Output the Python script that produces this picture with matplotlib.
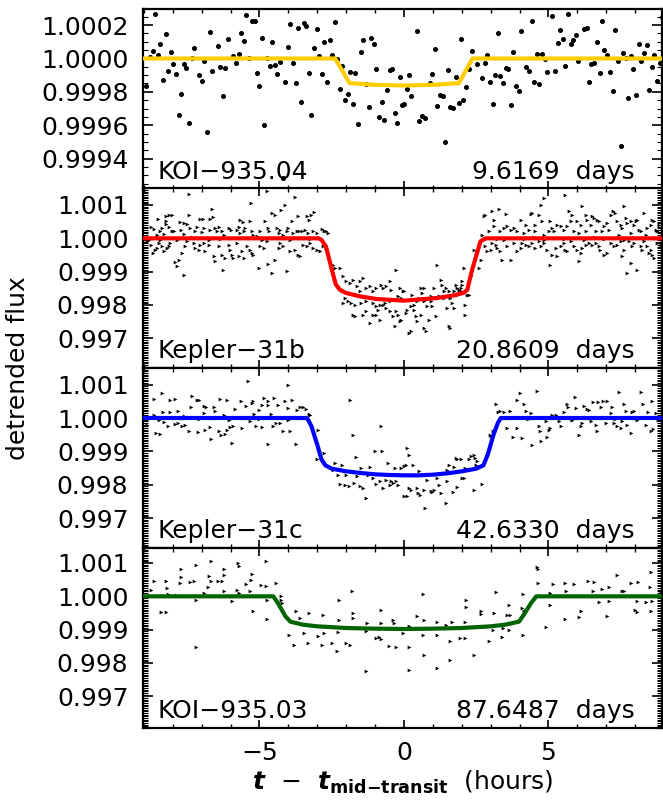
import matplotlib
matplotlib.use("Agg")
import matplotlib.pyplot as plt
from matplotlib.ticker import MultipleLocator

plt.rcParams['font.family'] = ['DejaVu Sans']
plt.rcParams['mathtext.fontset'] = 'dejavusans'

# ---------------- data ----------------
names = ["KOI\u2212935.04", "Kepler\u221231b", "Kepler\u221231c", "KOI\u2212935.03"]
periods = ["9.6169  days", "20.8609  days", "42.6330  days", "87.6487  days"]
line_colors = ["#FFCC00", "#FF0000", "#0000FF", "#006400"]

x_ticks = [-5, 0, 5]
x_tick_labels = ["\u22125", "0", "5"]
y_ticks_top = [0.9994, 0.9996, 0.9998, 1.0000, 1.0002]
y_labels_top = ["0.9994", "0.9996", "0.9998", "1.0000", "1.0002"]
y_ticks = [0.997, 0.998, 0.999, 1.000, 1.001]
y_labels = ["0.997", "0.998", "0.999", "1.000", "1.001"]

# KOI-935.04
t1 = [-8.60, -8.79, -8.69, -8.52, -8.43, -8.25, -8.07, -8.33, -8.16, -7.98, -7.89, -7.79, -7.70, -7.62, -7.53,
      -7.44, -7.25, -7.34, -7.08, -6.99, -6.91, -6.80, -6.71, -6.63, -6.45, -6.36, -6.26, -6.18, -6.08, -5.91,
      -5.82, -5.72, -5.63, -5.55, -5.46, -5.37, -5.25, -5.17, -5.09, -5.00, -4.92, -4.83, -4.74, -4.64, -4.55,
      -4.46, -4.38, -4.29, -4.18, -4.10, -4.01, -3.93, -3.84, -3.75, -3.66, -3.56, -3.47, -3.38, -3.30, -3.21,
      -3.11, -3.02, -2.93, -2.84, -2.75, -2.67, -2.57, -2.48, -2.39, -2.30, -2.21, -2.13, -2.03, -1.94, -1.85,
      -1.76, -1.68, -1.59, -1.49, -1.40, -1.31, -1.22, -1.13, -1.05, -0.95, -0.86, -0.77, -0.68, -0.59, -0.49,
      -0.41, -0.32, -0.23, -0.14, -0.05, -8.91,
      0.00, 0.09, 0.16, 0.25, 0.44, 0.53, 0.62, 0.72, 0.90, 0.98, 1.07, 1.16, 1.26, 1.35, 1.43, 1.52, 1.61, 1.71,
      1.80, 1.89, 1.98, 2.06, 2.16, 2.25, 2.34, 2.53, 2.70, 2.79, 2.88, 2.98, 3.07, 3.16, 3.25, 3.34, 3.43, 3.52,
      3.61, 3.70, 3.79, 3.88, 3.97, 4.06, 4.24, 4.34, 4.42, 4.51, 4.60, 4.69, 4.79, 4.88, 4.96, 5.14, 5.24, 5.32,
      5.41, 5.50, 5.59, 5.69, 5.77, 5.86, 5.95, 6.04, 6.23, 6.32, 6.41, 6.49, 6.59, 6.68, 6.77, 6.86, 6.94, 7.04,
      7.13, 7.22, 7.31, 7.40, 7.50, 7.58, 7.67, 7.76, 7.85, 7.94, 8.03, 8.12, 8.21, 8.30, 8.40, 8.49, 8.57, 8.66,
      8.75, 8.85, 8.94]
f1 = [1.000266, 1.000012, 1.000046, 1.000022, 1.000088, 1.000146, 1.000038, 0.999874, 0.999924, 0.999966,
      0.999908, 0.999662, 0.999786, 0.999968, 0.999946, 0.999612, 1.000066, 1.000002, 0.999902, 0.999868,
      0.999986, 0.999562, 1.000160, 0.999926, 1.000076, 0.999952, 0.999776, 0.999946, 1.000118, 1.000016,
      0.999972, 1.000028, 1.000156, 1.000108, 1.000260, 1.000002, 1.000226, 1.000226, 0.999916, 0.999836,
      1.000122, 0.999604, 1.000002, 0.999954, 1.000102, 0.999960, 0.999906, 0.999982, 0.999286, 0.999860,
      1.000070, 1.000208, 0.999972, 0.999854, 1.000182, 0.999738, 1.000214, 1.000196, 0.999912, 0.999662,
      1.000066, 1.000178, 1.000018, 0.999910, 1.000096, 0.999858, 1.000110, 1.000022, 1.000220, 0.999998,
      0.999818, 0.999954, 0.999750, 0.999790, 0.999920, 0.999730, 0.999916, 0.999606, 1.000040, 1.000112,
      0.999850, 0.999710, 1.000124, 1.000086, 0.999940, 0.999652, 0.999742, 0.999630, 0.999814, 0.999934,
      0.999940, 0.999672, 0.999612, 0.999890, 0.999724, 0.999838,
      0.999726, 0.999818, 0.999902, 0.999774, 1.000166, 0.999624, 0.999658, 0.999646, 0.999854, 0.999906,
      1.000058, 0.999716, 0.999780, 0.999774, 0.999502, 0.999932, 0.999710, 0.999704, 0.999892, 0.999732,
      1.000116, 0.999754, 0.999828, 0.999936, 1.000044, 0.999966, 0.999886, 0.999976, 1.000020, 0.999860,
      0.999730, 0.999904, 1.000150, 0.999894, 0.999852, 0.999946, 0.999940, 0.999720, 1.000040, 0.999834,
      0.999804, 1.000168, 0.999950, 0.999926, 1.000224, 0.999860, 1.000030, 0.999848, 1.000030, 0.999998,
      0.999922, 1.000254, 0.999924, 1.000094, 1.000174, 1.000118, 0.999954, 1.000268, 1.000086, 1.000112,
      1.000140, 0.999988, 1.000180, 1.000186, 0.999862, 0.999966, 0.999976, 1.000098, 0.999916, 1.000228,
      1.000054, 1.000020, 0.999922, 0.999808, 1.000170, 0.999988, 0.999478, 1.000032, 1.000002, 0.999766,
      1.000014, 0.999936, 0.999782, 1.000086, 0.999984, 1.000036, 1.000082, 0.999812, 0.999948, 1.000024,
      0.999866, 0.999974, 1.000250]
mt1 = [-9.1, -2.38, -1.88, -1.0, 0.0, 1.0, 1.90, 2.37, 9.1]
mf1 = [1.0, 1.0, 0.999852, 0.999842, 0.999838, 0.999842, 0.999852, 1.0, 1.0]

# Kepler-31b
t2 = [-7.45, -4.75, -3.77, -5.29, -4.11, -4.25, -6.64, -3.11, -7.43, -8.52, -8.23, -8.14, -8.02, -8.25, -8.22,
      -7.76, -7.62, -7.05, -6.97, -6.72, -6.62, -5.67, -5.57, -5.32, -4.80, -4.57, -4.46, -3.89, -3.68, -3.37,
      -3.29, -3.22, -8.77, -8.66, -8.54, -8.43, -8.37, -8.31, -8.14, -8.02, -7.97, -7.70, -7.62, -7.51, -7.39,
      -7.22, -7.16, -6.99, -6.93, -6.70, -6.55, -6.47, -6.41, -6.30, -6.24, -6.07, -5.99, -5.78, -5.71, -5.67,
      -5.55, -5.49, -5.26, -5.21, -5.09, -4.98, -4.69, -4.66, -4.40, -4.34, -4.29, -4.17, -4.06, -4.00, -3.83,
      -3.71, -3.64, -3.54, -3.43, -3.31, -3.16, -3.02, -2.83, -2.77, -2.70, -2.64,
      -8.89, -8.77, -8.68, -8.60, -8.54, -8.48, -8.37, -8.31, -8.20, -8.14, -8.08, -7.91, -7.85, -7.77, -7.68,
      -7.62, -7.56, -7.51, -7.28, -7.22, -7.10, -7.05, -6.93, -6.87, -6.76, -6.59, -6.53, -6.41, -6.30, -6.26,
      -6.18, -6.07, -6.01, -5.95, -5.90, -5.78, -5.72, -5.61, -5.55, -5.44, -5.32, -5.26, -5.21, -5.03, -4.98,
      -4.86, -4.75, -4.69, -4.57, -4.46, -4.34, -4.29, -4.17, -4.06, -3.94, -3.77, -3.66, -3.60, -3.48, -3.37,
      -3.25, -3.14, -3.02, -2.91, -2.79, -2.70,
      -8.83, -8.66, -8.45, -8.25, -7.85, -7.56, -7.33, -7.10, -6.76, -6.36, -6.01, -5.67, -5.32, -4.92, -4.63,
      -4.29, -3.94, -3.60, -3.25, -2.97,
      -2.45, -2.39, -2.22, -2.10, -1.99, -1.87, -1.76, -1.64, -1.53, -1.41, -1.30, -1.18, -1.07, -0.95, -0.78,
      -0.72, -0.61, -0.49, -0.44, -0.26, -0.15, -0.03, -2.16, -2.05, -1.93, -1.82, -1.70, -1.59, -1.47, -1.41,
      -1.30, -1.18, -1.07, -0.95, -0.90, -0.84, -0.72, -0.67, -0.61, -0.49, -0.38, -0.32, -0.26, -0.21, -0.15,
      -0.09, -2.10, -1.76, -1.70, -1.07, -0.49, -0.21, -0.09, -1.53, -1.30, -0.95, -0.84,
      0.00, 0.06, 0.12, 0.17, 0.23, 0.29, 0.35, 0.40, 0.46, 0.52, 0.58, 0.63, 0.69, 0.75, 0.81, 0.86, 0.92, 0.98,
      1.04, 1.10, 1.15, 1.21, 1.27, 1.33, 1.38, 1.44, 1.50, 1.56, 1.61, 1.67, 1.73, 1.79, 1.84, 1.90, 1.96, 2.02,
      2.08, 2.13, 2.13, 2.19, 2.25, 2.31, 2.36, 1.15, 0.23, 0.46, 0.69, 0.92, 1.61, 1.84, 0.35, 0.58, 1.73, 1.96,
      2.02, 0.69, 1.38, 1.56,
      2.42, 2.48, 2.54, 2.59, 2.65, 2.71, 2.77, 2.65,
      2.77, 2.82, 3.06, 3.11, 3.29, 3.52, 3.57, 3.81, 3.92, 4.04, 4.21, 4.38, 4.44, 4.55, 4.67, 4.73, 4.79, 4.84,
      5.07, 5.19, 5.31, 5.42, 5.59, 5.71, 5.77, 5.82, 6.00, 6.05, 6.11, 6.17, 6.29, 6.34, 6.46, 6.52, 6.57, 6.69,
      6.75, 6.86, 6.92, 7.04, 7.15, 7.24, 7.32, 7.38, 7.50, 7.55, 7.61, 7.67, 7.73, 7.84, 7.96, 8.02, 8.07, 8.19,
      8.30, 8.42, 8.54, 8.59, 8.65, 8.71, 8.82, 2.94, 3.11, 3.34, 3.46, 3.69, 4.15, 4.32, 4.55, 4.84, 5.02, 5.13,
      5.53, 5.65, 5.88, 6.29, 6.63, 7.09, 7.44, 7.84, 8.13, 8.36, 8.76,
      2.82, 2.88, 3.00, 3.06, 3.17, 3.23, 3.34, 3.40, 3.57, 3.69, 3.81, 3.92, 4.04, 4.09, 4.21, 4.32, 4.44, 4.55,
      4.67, 4.73, 4.84, 4.96, 5.07, 5.13, 5.25, 5.31, 5.42, 5.53, 5.59, 5.65, 5.77, 5.88, 6.00, 6.05, 6.11, 6.17,
      6.29, 6.40, 6.52, 6.63, 6.75, 6.80, 6.92, 7.04, 7.15, 7.27, 7.38, 7.50, 7.55, 7.61, 7.73, 7.79, 7.84, 7.90,
      7.96, 8.07, 8.19, 8.25, 8.30, 8.42, 8.48, 8.54, 8.59, 8.65, 8.77, 8.88,
      2.88, 3.23, 3.46, 3.81, 4.15, 4.50, 4.84, 5.19, 5.53, 5.88, 6.23, 6.57, 6.92, 7.27, 7.61, 7.96, 8.30, 8.65,
      8.94]
f2 = [1.00133, 1.00141, 1.00123, 1.00105, 1.00099, 1.00086, 1.00088, 1.00079, 1.00071, 1.00058, 1.00068,
      1.00071, 1.00071, 1.00051, 1.00043, 1.00048, 1.00046, 1.00059, 1.00059, 1.00059, 1.00064, 1.00056,
      1.00048, 1.00051, 1.00051, 1.00076, 1.00069, 1.00051, 1.00066, 1.00066, 1.00056, 1.00071, 1.00033,
      1.00029, 1.00011, 1.00023, 1.00031, 1.00013, 1.00033, 1.00021, 1.00023, 1.00026, 1.00013, 1.00043,
      1.00031, 1.00021, 1.00033, 1.00019, 1.00031, 1.00026, 1.00031, 1.00021, 1.00033, 1.00023, 1.00011,
      1.00031, 1.00026, 1.00026, 1.00033, 1.00016, 1.00021, 1.00031, 1.00021, 1.00011, 1.00006, 1.00021,
      1.00031, 1.00021, 1.00031, 1.00016, 1.00026, 1.00011, 1.00021, 1.00031, 1.00016, 1.00021, 1.00023,
      1.00021, 1.00026, 1.00016, 1.00021, 1.00016, 1.00029, 1.00023, 1.00021, 1.00016,
      0.99991, 0.99981, 0.99956, 0.99966, 0.99971, 0.99986, 0.99976, 0.99963, 0.99971, 0.99976, 0.99986,
      0.99929, 0.99916, 0.99936, 0.99956, 0.99891, 0.99976, 0.99993, 0.99986, 0.99971, 0.99966, 0.99981,
      0.99986, 0.99961, 0.99981, 0.99946, 0.99931, 0.99976, 0.99951, 0.99906, 0.99941, 0.99981, 0.99966,
      0.99951, 0.99941, 0.99986, 0.99946, 0.99961, 0.99941, 0.99976, 0.99966, 0.99956, 0.99951, 0.99911,
      0.99976, 0.99971, 0.99991, 0.99923, 0.99896, 0.99936, 0.99971, 0.99986, 0.99976, 0.99901, 0.99961,
      0.99966, 0.99951, 0.99946, 0.99981, 0.99976, 0.99986, 0.99971, 0.99966, 0.99961, 0.99976, 0.99971,
      0.99996, 1.00001, 0.99996, 1.00001, 0.99996, 1.00001, 1.00003, 1.00001, 0.99996, 0.99999, 1.00001,
      1.00001, 1.00001, 0.99996, 1.00001, 1.00001, 0.99996, 1.00001, 0.99999, 1.00001,
      0.99921, 0.99911, 0.99911, 0.99886, 0.99871, 0.99866, 0.99876, 0.99856, 0.99871, 0.99881, 0.99851,
      0.99856, 0.99841, 0.99851, 0.99861, 0.99851, 0.99856, 0.99871, 0.99846, 0.99906, 0.99851, 0.99841,
      0.99841, 0.99821, 0.99811, 0.99806, 0.99801, 0.99831, 0.99806, 0.99771, 0.99781, 0.99746, 0.99771,
      0.99796, 0.99786, 0.99756, 0.99801, 0.99806, 0.99791, 0.99781, 0.99766, 0.99736, 0.99781, 0.99771,
      0.99751, 0.99756, 0.99806, 0.99771, 0.99766, 0.99806, 0.99811, 0.99826, 0.99821, 0.99841, 0.99811,
      0.99771, 0.99801,
      0.99841, 0.99776, 0.99786, 0.99716, 0.99721, 0.99831, 0.99801, 0.99766, 0.99751, 0.99821, 0.99851,
      0.99836, 0.99731, 0.99721, 0.99796, 0.99756, 0.99826, 0.99796, 0.99851, 0.99766, 0.99821, 0.99826,
      0.99876, 0.99861, 0.99821, 0.99851, 0.99791, 0.99736, 0.99731, 0.99806, 0.99841, 0.99861, 0.99851,
      0.99846, 0.99851, 0.99871, 0.99911, 0.99801, 0.99771, 0.99831, 0.99831, 0.99886, 0.99901, 0.99919,
      0.99796, 0.99811, 0.99811, 0.99811, 0.99821, 0.99831, 0.99786, 0.99771, 0.99791, 0.99841, 0.99861,
      0.99851, 0.99841, 0.99841,
      0.99966, 0.99951, 0.99961, 0.99911, 0.99991, 1.00011, 1.00001, 0.99936,
      1.00066, 1.00071, 1.00081, 1.00056, 1.00089, 1.00073, 1.00036, 1.00031, 1.00021, 1.00056, 1.00041,
      1.00073, 1.00076, 1.00041, 1.00071, 1.00099, 1.00051, 1.00121, 1.00051, 1.00021, 1.00041, 1.00036,
      1.00131, 1.00081, 1.00051, 1.00069, 1.00051, 1.00016, 1.00041, 1.00096, 1.00071, 1.00056, 1.00041,
      1.00066, 1.00061, 1.00056, 1.00051, 1.00021, 1.00036, 1.00046, 1.00071, 1.00081, 1.00076, 1.00051,
      1.00041, 1.00031, 1.00096, 1.00061, 1.00046, 1.00051, 1.00041, 1.00051, 1.00056, 1.00021, 1.00076,
      1.00031, 1.00041, 1.00056, 1.00051, 1.00026, 1.00041, 1.00021, 1.00036, 1.00021, 1.00031, 1.00026,
      1.00016, 1.00026, 1.00021, 1.00011, 1.00021, 1.00031, 1.00026, 1.00036, 1.00021, 1.00021, 1.00021,
      1.00026, 1.00011, 1.00016, 1.00026, 1.00011, 1.00021,
      0.99976, 0.99961, 0.99966, 0.99986, 0.99981, 0.99971, 0.99961, 0.99936, 0.99976, 0.99936, 0.99986,
      0.99961, 0.99971, 0.99986, 0.99981, 0.99976, 0.99986, 0.99971, 0.99991, 0.99976, 0.99986, 0.99966,
      0.99921, 0.99951, 0.99971, 0.99946, 0.99976, 0.99986, 0.99966, 0.99961, 0.99991, 0.99976, 0.99966,
      0.99931, 0.99956, 0.99971, 0.99981, 0.99986, 0.99981, 0.99986, 0.99976, 0.99966, 0.99951, 0.99956,
      0.99986, 0.99976, 0.99981, 0.99991, 0.99946, 0.99966, 0.99896, 0.99991, 0.99926, 0.99976, 0.99986,
      0.99906, 0.99976, 0.99966, 0.99991, 0.99976, 0.99956, 0.99966, 0.99951, 0.99941, 0.99986, 0.99981,
      1.00001, 0.99998, 0.99996, 1.00001, 0.99998, 1.00003, 0.99996, 1.00001, 0.99998, 1.00001, 0.99996,
      1.00003, 0.99998, 1.00001, 0.99996, 1.00001, 0.99998, 1.00001, 0.99999]
mt2 = [-9.1, -2.95, -2.85, -2.70, -2.51, -2.36, -2.22, -2.00, -1.53, -0.95, 0.0, 0.58, 1.15, 1.73, 2.05, 2.19,
       2.36, 2.65, 2.83, 9.1]
mf2 = [1.0, 1.0, 0.99995, 0.99976, 0.99911, 0.99862, 0.99846, 0.99836, 0.99826, 0.99818, 0.99813, 0.99817,
       0.99821, 0.99829, 0.99836, 0.99845, 0.99906, 0.99991, 1.0, 1.0]

# Kepler-31c
t3 = [-8.66, -8.37, -8.08, -7.93, -7.33, -7.16, -7.10, -6.13, -5.64, -5.41, -5.21, -4.86, -4.72, -4.49, -4.11,
      -4.00, -3.89, -6.38,
      -8.66, -8.10, -7.82, -7.62, -7.37, -6.93, -6.93, -6.84, -6.59, -6.53, -6.22, -5.86, -5.47, -5.26, -5.18,
      -5.00, -4.92, -4.69, -4.60, -4.37, -4.00, -3.71, -3.60, -3.51, -3.40, -3.29, -8.33,
      -8.89, -8.59, -8.43, -8.31, -8.16, -7.91, -7.82, -7.68, -7.56, -7.45, -7.13, -6.90, -6.70, -6.67, -6.41,
      -6.33, -6.18, -6.13, -6.03, -5.95, -5.93, -5.61, -5.34, -5.11, -4.92, -4.72, -4.52, -4.44, -4.20, -3.94,
      -3.74, -4.29,
      -8.83, -8.48, -7.97, -7.62, -7.10, -6.59, -6.07, -5.55, -5.03, -4.52, -4.00, -3.48,
      -3.25, -2.97, -3.02, -2.76,
      -2.45, -2.39, -2.28, -2.22, -2.13, -2.05, -1.99, -1.90, -1.85, -1.78, -1.74, -1.67, -1.64, -1.53, -1.47,
      -1.41, -1.30, -1.24, -1.16, -1.07, -1.01, -0.95, -0.84, -0.78, -0.75, -0.72, -0.61, -0.55, -0.49, -0.44,
      -0.38, -0.32, -0.26, -0.21, -0.09, -0.01, 0.01, -1.97,
      0.12, 0.17, 0.06, 0.32, 0.09, 0.17, 0.25, 0.46, 0.48, 0.55, 0.52, 0.69, 0.73, 0.81, 0.92, 0.98, 1.04, 1.15,
      1.21, 1.27, 1.44, 1.48, 1.50, 1.56, 1.73, 1.79, 1.85, 1.96, 2.02, 2.08, 1.71, 1.82, 2.13, 2.25, 2.31, 2.42,
      2.45, 2.48, 2.42, 2.71, 2.54, 2.88, 2.98, 3.02, 3.09,
      3.17, 3.26, 3.32, 3.46, 3.67, 3.58, 3.78, 3.92, 3.92, 4.01, 4.09, 4.17, 4.24, 4.38, 4.44, 4.59, 4.67, 4.71,
      4.75, 4.90, 4.96, 5.02, 5.07, 5.13, 5.25, 5.36, 5.42, 5.54, 5.63, 5.67, 5.82, 5.91, 5.97, 6.06, 6.11, 6.17,
      6.23, 6.34, 6.40, 6.46, 6.55, 6.63, 6.67, 6.72, 6.81, 6.90, 6.98, 7.04, 7.15, 7.21, 7.27, 7.38, 7.44, 7.50,
      7.55, 7.61, 7.67, 7.73, 7.84, 7.90, 7.96, 8.07, 8.19, 8.28, 8.36, 8.44, 8.54, 8.59, 8.63, 8.71,
      3.6, 4.3, 5.0, 5.8, 6.5, 7.3, 8.0, 8.8]
f3 = [1.00058, 1.00074, 1.00055, 1.00058, 1.00065, 1.00053, 1.00053, 1.00053, 1.00050, 1.00112, 1.00050,
      1.00060, 1.00050, 1.00060, 1.00050, 1.00098, 1.00055, 1.00058,
      1.00010, 1.00017, 1.00020, 1.00005, 1.00033, 1.00015, 1.00037, 1.00033, 1.00032, 1.00022, 1.00010,
      1.00028, 1.00037, 1.00045, 1.00012, 1.00025, 1.00040, 1.00038, 1.00012, 1.00040, 1.00030, 1.00025,
      1.00032, 1.00032, 1.00028, 1.00012, 1.00017,
      0.99980, 0.99955, 0.99953, 0.99987, 0.99975, 0.99983, 0.99985, 0.99975, 0.99980, 0.99960, 0.99958,
      0.99964, 0.99972, 0.99937, 0.99960, 0.99950, 0.99952, 0.99965, 0.99972, 0.99925, 0.99977, 0.99969,
      0.99990, 0.99975, 0.99972, 0.99922, 0.99975, 0.99985, 0.99962, 0.99962, 0.99923, 0.99985,
      1.00000, 0.99995, 1.00000, 1.00000, 0.99997, 1.00000, 0.99995, 1.00000, 0.99997, 1.00000, 0.99995,
      1.00000,
      1.00010, 0.99965, 0.99878, 0.99895,
      0.99845, 0.99865, 0.99830, 0.99803, 0.99860, 0.99798, 0.99830, 0.99795, 1.00053, 0.99950, 0.99805,
      0.99882, 0.99825, 0.99795, 0.99850, 0.99790, 0.99760, 0.99830, 0.99852, 0.99820, 0.99900, 0.99802,
      0.99810, 0.99975, 0.99902, 0.99790, 0.99815, 0.99865, 0.99800, 0.99810, 0.99805, 0.99850, 0.99810,
      0.99798, 0.99850, 0.99857, 0.99765, 0.99840,
      0.99910, 0.99888, 0.99860, 0.99860, 0.99765, 0.99790, 0.99785, 0.99790, 0.99775, 0.99770, 0.99840,
      0.99785, 0.99730, 0.99815, 0.99780, 0.99778, 0.99785, 0.99820, 0.99800, 0.99775, 0.99745, 0.99810,
      0.99845, 0.99858, 0.99852, 0.99880, 0.99878, 0.99878, 0.99820, 0.99820, 0.99778, 0.99792, 0.99850,
      0.99878, 0.99885, 0.99890, 0.99880, 0.99860, 0.99785, 0.99802, 0.99872, 0.99885, 0.99950, 0.99945,
      0.99960,
      1.00042, 1.00018, 1.00020, 1.00018, 1.00020, 0.99970, 0.99942, 0.99970, 1.00055, 1.00075, 0.99940,
      1.00042, 1.00020, 1.00015, 0.99918, 1.00080, 0.99975, 0.99962, 0.99932, 0.99990, 0.99942, 0.99965,
      0.99970, 1.00010, 1.00010, 0.99990, 0.99975, 1.00018, 1.00042, 1.00032, 0.99995, 1.00062, 1.00030,
      0.99948, 0.99975, 0.99985, 1.00035, 1.00028, 1.00025, 0.99990, 1.00048, 0.99980, 0.99962, 1.00048,
      1.00032, 1.00050, 0.99985, 1.00052, 1.00015, 1.00032, 0.99985, 0.99975, 1.00078, 0.99970, 0.99990,
      1.00042, 1.00020, 0.99980, 0.99955, 1.00018, 1.00022, 0.99995, 1.00078, 1.00042, 0.99978, 1.00018,
      0.99962, 1.00050, 0.99968, 1.00015,
      1.00000, 0.99997, 1.00000, 0.99995, 1.00000, 0.99997, 1.00000, 0.99995]
mt3 = [-9.1, -3.35, -3.20, -3.00, -2.85, -2.72, -2.50, -2.00, -1.50, -1.00, -0.50, 0.0, 0.50, 1.00, 1.50,
       2.00, 2.50, 2.75, 2.90, 3.10, 3.25, 3.35, 9.1]
mf3 = [1.0, 1.0, 0.99975, 0.99920, 0.99875, 0.99858, 0.99848, 0.99840, 0.99835, 0.99831, 0.99829, 0.99828,
       0.99828, 0.99830, 0.99834, 0.99840, 0.99848, 0.99858, 0.99890, 0.99950, 0.99985, 1.0, 1.0]

# KOI-935.03
t4 = [-8.75, -8.65, -8.40, -8.25, -8.22, -8.19, -8.17, -7.90, -7.75, -7.73, -7.71, -7.41, -7.27, -7.21, -7.21,
      -7.21, -6.69, -6.92, -6.79, -6.75, -6.69, -6.44, -6.29, -6.23, -6.21, -6.21, -5.94, -5.77, -5.74, -5.71,
      -5.71, -5.48, -5.31, -5.29, -5.25, -5.22, -4.94, -4.76, -4.76, -4.73, -4.73, -4.44, -4.27, -4.25, -4.21,
      -3.98, -3.81, -3.75, -3.60, -3.46, -3.33, -3.29, -2.98, -2.83, -2.79, -2.77, -2.48, -2.33, -2.29, -2.25,
      -2.25, -1.99, -1.85, -1.79, -1.76, -1.76, -1.33, -1.30, -1.27, -0.98, -0.87, -0.79, -0.79, -0.79, -0.52,
      -0.37, -0.33, -0.29, -0.03, 0.17, 0.17, 0.19, 0.46, 0.67, 0.67, 0.69, 0.69, 1.13, 1.15, 1.15, 1.44, 1.61,
      1.61, 1.67, 1.93, 2.10, 2.13, 2.16, 2.16, 2.42, 2.65, 2.67, 2.94, 3.09, 3.13, 3.17, 3.40, 3.43, 3.57, 3.66,
      3.63, 3.63, 4.09, 4.13, 4.13, 4.15, 4.21, 4.59, 4.63, 4.63, 4.90, 5.05, 5.07, 5.16, 5.56, 5.59, 5.62, 5.88,
      6.05, 6.11, 6.37, 6.55, 6.59, 6.74, 6.86, 7.03, 7.09, 7.09, 7.38, 7.55, 7.61, 7.86, 8.01, 8.05, 8.07, 8.09,
      8.36, 8.53, 8.55, 8.55, 8.59, 8.90]
f4 = [1.00020, 1.00045, 0.99952, 0.99952, 1.00045, 1.00025, 1.00007, 1.00005, 1.00040, 1.00057, 1.00083,
      1.00042, 1.00047, 1.00095, 0.99988, 0.99847, 1.00107, 1.00010, 1.00027, 1.00060, 1.00047, 1.00047,
      1.00047, 1.00065, 1.00083, 1.00017, 0.99985, 1.00020, 1.00100, 1.00090, 1.00010, 1.00037, 1.00017,
      1.00050, 1.00067, 0.99957, 1.00035, 1.00105, 1.00030, 0.99990, 0.99932, 1.00040, 1.00000, 0.99990,
      0.99980, 0.99885, 0.99855, 0.99957, 0.99935, 0.99890, 0.99860, 0.99950, 0.99880, 0.99853, 0.99943,
      0.99890, 0.99860, 0.99837, 0.99893, 0.99930, 0.99990, 0.99860, 0.99853, 1.00017, 0.99950, 0.99935,
      0.99775, 0.99895, 0.99920, 0.99875, 0.99877, 0.99960, 0.99920, 0.99873, 0.99850, 0.99930, 0.99920,
      0.99847, 0.99890, 0.99780, 0.99910, 0.99848, 0.99940, 1.00007, 0.99885, 0.99825, 0.99930, 0.99785,
      0.99923, 0.99885, 0.99915, 0.99867, 0.99810, 0.99923, 0.99875, 0.99875, 0.99923, 0.99990, 0.99967,
      0.99825, 0.99957, 0.99947, 0.99865, 0.99900, 0.99950, 1.00013, 0.99877, 0.99905, 0.99945, 0.99945,
      0.99973, 0.99900, 0.99965, 1.00007, 0.99883, 0.99955, 0.99960, 1.00087, 1.00083, 1.00040, 0.99907,
      0.99973, 1.00010, 1.00037, 0.99933, 1.00040, 1.00015, 1.00037, 0.99937, 0.99955, 1.00045, 1.00015,
      1.00043, 0.99983, 1.00023, 0.99940, 0.99985, 1.00027, 1.00065, 1.00017, 1.00015, 1.00040, 0.99960,
      0.99953, 0.99985, 1.00043, 0.99983, 1.00027, 1.00073, 0.99955, 0.99987, 1.00015]
mt4 = [-9.1, -4.52, -4.35, -4.10, -3.93, -3.50, -3.00, -2.00, -1.00, 0.0, 1.00, 2.00, 3.00, 3.50, 3.98, 4.15,
       4.40, 4.58, 9.1]
mf4 = [1.0, 1.0, 0.99978, 0.99940, 0.99924, 0.99915, 0.99910, 0.99905, 0.99903, 0.99902, 0.99903, 0.99905,
       0.99910, 0.99915, 0.99924, 0.99945, 0.99980, 1.0, 1.0]

all_t = [t1, t2, t3, t4]
all_f = [f1, f2, f3, f4]
all_mt = [mt1, mt2, mt3, mt4]
all_mf = [mf1, mf2, mf3, mf4]
ylims = [(0.99922, 1.00030), (0.99611, 1.00151), (0.99610, 1.00150), (0.99605, 1.00145)]

# ---------------- figure ----------------
W, H = 663, 801
fig = plt.figure(figsize=(W / 100, H / 100), dpi=100)
left_px, right_px = 143, 662
tops = [8.5, 188, 368, 548]
ph = 180
FS = 18

for i in range(4):
    ax = fig.add_axes([left_px / W, 1 - (tops[i] + ph) / H, (right_px - left_px) / W, ph / H])
    if i == 0:
        ax.plot(all_t[i], all_f[i], linestyle='none', marker='o', markersize=2.6, color='black', zorder=2)
    else:
        ax.plot(all_t[i], all_f[i], linestyle='none', marker='>', markersize=2.7, color='black',
                markeredgewidth=0, zorder=2)
    ax.plot(all_mt[i], all_mf[i], color=line_colors[i], linewidth=3.0, zorder=3,
            solid_joinstyle='round', solid_capstyle='butt')
    ax.set_xlim(-9.03, 8.93)
    ax.set_ylim(*ylims[i])
    ax.set_xticks(x_ticks)
    ax.xaxis.set_minor_locator(MultipleLocator(1))
    if i == 0:
        ax.set_yticks(y_ticks_top)
        ax.set_yticklabels(y_labels_top)
    else:
        ax.set_yticks(y_ticks)
        ax.set_yticklabels(y_labels)
    ax.yaxis.set_minor_locator(MultipleLocator(0.00005))
    if i == 3:
        ax.set_xticklabels(x_tick_labels)
    else:
        ax.set_xticklabels([])
    ax.tick_params(which='both', direction='in', top=True, right=True, labelsize=FS, colors='black')
    ax.tick_params(axis='y', which='major', length=7, width=1.2, pad=10.5)
    ax.tick_params(axis='y', which='minor', length=3.5, width=0.8)
    ax.tick_params(axis='x', which='major', length=6, width=1.2, pad=9)
    ax.tick_params(axis='x', which='minor', length=3, width=1.0)
    for sp in ax.spines.values():
        sp.set_linewidth(1.6)
    ax.text(0.027, 0.055, names[i], transform=ax.transAxes, fontsize=FS, ha='left', va='baseline')
    ax.text(0.948, 0.055, periods[i], transform=ax.transAxes, fontsize=FS, ha='right', va='baseline')
    if i == 3:
        ax.set_xlabel(r'$\mathbfit{t}\ \ \mathrm{-}\ \ \mathbfit{t}_{\mathbf{mid{-}transit}}$  (hours)',
                      fontsize=FS, labelpad=3)

fig.text(18 / W, 1 - 368 / H, 'detrended flux', rotation=90, ha='center', va='center', fontsize=FS)

fig.savefig('out.png', dpi=100)
